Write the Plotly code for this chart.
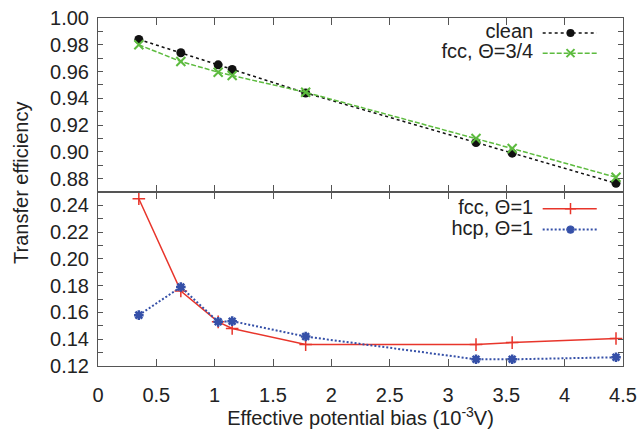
import plotly.graph_objects as go

# Effective potential bias (10^-3 V)
bias = [0.35, 0.71, 1.03, 1.15, 1.78, 3.24, 3.55, 4.44]

# Upper panel: transfer efficiency
clean = [0.984, 0.974, 0.965, 0.9615, 0.944, 0.907, 0.899, 0.8765]
fcc_34 = [0.980, 0.9675, 0.9595, 0.957, 0.9445, 0.910, 0.9025, 0.881]

# Lower panel: transfer efficiency
fcc_1 = [0.245, 0.176, 0.153, 0.148, 0.136, 0.136, 0.1375, 0.1405]
hcp_1 = [0.158, 0.179, 0.153, 0.1535, 0.142, 0.125, 0.125, 0.1265]

x_ticks = [0, 0.5, 1, 1.5, 2, 2.5, 3, 3.5, 4, 4.5]
x_ticktext = ["0", "0.5", "1", "1.5", "2", "2.5", "3", "3.5", "4", "4.5"]

top_ticks = [round(0.87 + 0.01 * i, 2) for i in range(14)]
bot_ticks = [round(0.12 + 0.01 * i, 2) for i in range(14)]


def tick_text(vals):
    return [f"{v:.2f}" if round(v * 100) % 2 == 0 else "" for v in vals]


BLACK = "#111111"
GREEN = "#5dbb3f"
RED = "#e8352b"
BLUE = "#3550a8"
AXIS = "#555555"
TEXT = "#222222"
FONT = "Liberation Sans, Arial, sans-serif"
FS = 20

series = [
    dict(name="clean", y=clean, axes=("x2", "y2"), color=BLACK, dash="3px,3px",
         width=1.5, symbol="circle", size=9, mline=0),
    dict(name="fcc, \u0398=3/4", y=fcc_34, axes=("x2", "y2"), color=GREEN, dash="5px,2px",
         width=1.5, symbol="x-thin", size=9, mline=2),
    dict(name="fcc, \u0398=1", y=fcc_1, axes=("x", "y"), color=RED, dash="solid",
         width=1.5, symbol="cross-thin", size=9, mline=1.5),
    dict(name="hcp, \u0398=1", y=hcp_1, axes=("x", "y"), color=BLUE, dash="2px,2px",
         width=2, symbol="asterisk", size=8, mline=2.5),
]

fig = go.Figure()
for s in series:
    fig.add_trace(go.Scatter(
        x=bias, y=s["y"], xaxis=s["axes"][0], yaxis=s["axes"][1],
        mode="lines+markers", name=s["name"], showlegend=False,
        line=dict(color=s["color"], dash=s["dash"], width=s["width"]),
        marker=dict(symbol=s["symbol"], size=s["size"], color=s["color"],
                    line=dict(color=s["color"], width=s["mline"])),
    ))

# Key entries: right-aligned label, then a sample line with a marker
key_y = [0.957, 0.899, 0.452, 0.392]
key_x0, key_xm, key_x1, key_text_x = 0.847, 0.900, 0.950, 0.829
for s, ky in zip(series, key_y):
    fig.add_trace(go.Scatter(
        x=[key_x0, key_xm, key_x1], y=[ky, ky, ky], xaxis="x3", yaxis="y3",
        mode="lines", showlegend=False, hoverinfo="skip",
        line=dict(color=s["color"], dash=s["dash"], width=s["width"]),
    ))
    fig.add_trace(go.Scatter(
        x=[key_xm], y=[ky], xaxis="x3", yaxis="y3",
        mode="markers", showlegend=False, hoverinfo="skip",
        marker=dict(symbol=s["symbol"], size=s["size"] - 1, color=s["color"],
                    line=dict(color=s["color"], width=s["mline"])),
    ))
fig.add_trace(go.Scatter(
    x=[key_text_x] * len(series), y=key_y, xaxis="x3", yaxis="y3",
    mode="text", text=[s["name"] for s in series], textposition="middle left",
    showlegend=False, hoverinfo="skip",
    textfont=dict(family=FONT, size=FS, color=TEXT),
))

common_axis = dict(
    showline=True, linecolor=AXIS, linewidth=1, mirror="ticks",
    ticks="inside", tickcolor=AXIS, showgrid=False, zeroline=False,
    automargin=False,
    tickfont=dict(family=FONT, size=FS, color=TEXT),
)

fig.update_layout(
    width=642, height=429,
    margin=dict(l=98, r=19, t=18, b=63),
    paper_bgcolor="white", plot_bgcolor="rgba(0,0,0,0)",
    xaxis=dict(common_axis, domain=[0, 1], anchor="y", range=[0, 4.5],
               tickvals=x_ticks, ticktext=x_ticktext, ticklen=7,
               ticklabelstandoff=11,
               title=dict(text="Effective potential bias (10<sup>-3</sup>V)",
                          font=dict(family=FONT, size=FS, color=TEXT),
                          standoff=6)),
    yaxis=dict(common_axis, domain=[0, 0.5], anchor="x", range=[0.12, 0.25],
               tickvals=bot_ticks, ticktext=tick_text(bot_ticks), ticklen=5,
               ticklabelstandoff=4),
    xaxis2=dict(common_axis, domain=[0, 1], anchor="y2", range=[0, 4.5],
                tickvals=x_ticks, showticklabels=False, ticklen=7),
    yaxis2=dict(common_axis, domain=[0.5, 1], anchor="x2", range=[0.87, 1.0],
                tickvals=top_ticks, ticktext=tick_text(top_ticks), ticklen=5,
                ticklabelstandoff=4),
    xaxis3=dict(domain=[0, 1], anchor="y3", range=[0, 1], visible=False, fixedrange=True),
    yaxis3=dict(domain=[0, 1], anchor="x3", range=[0, 1], visible=False, fixedrange=True),
    showlegend=False,
)

fig.add_annotation(
    x=-0.148, y=0.527, xref="paper", yref="paper", text="Transfer efficiency",
    textangle=-90, showarrow=False, xanchor="center", yanchor="middle",
    font=dict(family=FONT, size=FS, color=TEXT),
)

fig.write_html("out.html")
